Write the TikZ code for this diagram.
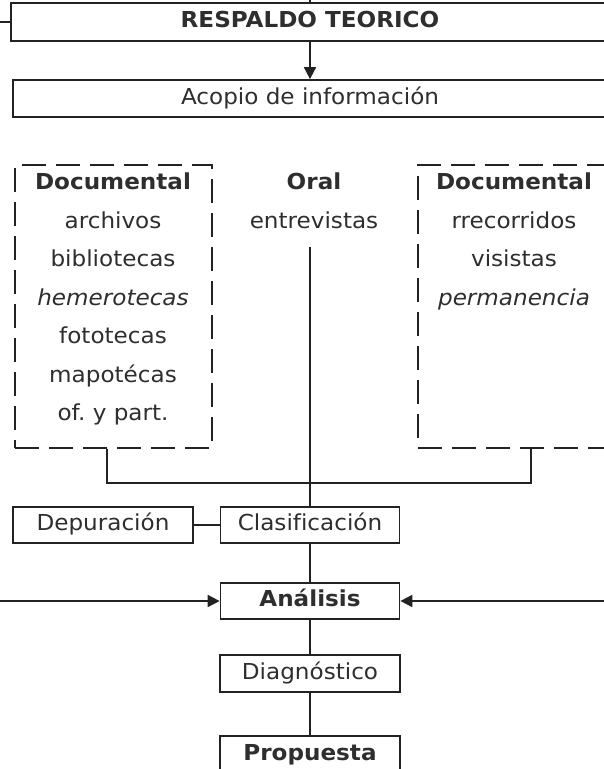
\documentclass[tikz,border=0pt]{standalone}
\usepackage{fontspec}
\setmainfont[FakeStretch=1.05,Ligatures={NoCommon}]{DejaVu Sans}
\usetikzlibrary{arrows.meta}
\definecolor{ink}{HTML}{222222}
\definecolor{txtc}{HTML}{2E2E2E}
\tikzset{
  conn/.style={draw=ink, line width=1.7pt},
  arr/.style={conn, -{Triangle[length=12pt,width=12pt]}},
  box/.style={draw=ink, line width=1.7pt, inner sep=0pt, text=txtc,
    font=\fontsize{22}{26}\selectfont, text height=16pt, text depth=4.5pt},
  dbox/.style={draw=ink, line width=1.7pt, dash pattern=on 24pt off 10pt, inner sep=0pt},
  txt/.style={inner sep=0pt, text=txtc, align=center,
    font=\fontsize{22}{38.5}\selectfont}
}
\frenchspacing
\begin{document}
\begin{tikzpicture}[x=1pt,y=-1pt]
\useasboundingbox (0,0) rectangle (604,769);
\clip (0,0) rectangle (604,769);
% main boxes
\node[box, minimum width=598pt, minimum height=38pt, font=\fontsize{22}{26}\selectfont\bfseries] (resp) at (310,22) {RESPALDO TEORICO};
\node[box, minimum width=594pt, minimum height=37pt] (acopio) at (310,98.5) {Acopio de información};
% dashed groups
\node[dbox, minimum width=197pt, minimum height=283pt] (ldoc) at (113.5,306.5) {};
\node[dbox, minimum width=193pt, minimum height=283pt] (rdoc) at (514.5,306.5) {};
\node[txt, anchor=north] (ltext) at (113,173) {\textbf{Documental}\\archivos\\bibliotecas\\\textit{hemerotecas}\\fototecas\\mapotécas\\of. y part.};
\node[txt, anchor=north] (oral) at (314,173) {\textbf{Oral}\\entrevistas};
\node[txt, anchor=north] (rtext) at (514,173) {\textbf{Documental}\\rrecorridos\\visistas\\\textit{permanencia}};
% lower boxes
\node[box, minimum width=180pt, minimum height=36pt] (dep) at (103,525) {Depuración};
\node[box, minimum width=179pt, minimum height=36pt] (clas) at (310,525) {Clasificación};
\node[box, minimum width=179pt, minimum height=36pt, font=\fontsize{22}{26}\selectfont\bfseries] (anal) at (310,601) {Análisis};
\node[box, minimum width=180pt, minimum height=37pt] (diag) at (310,673.5) {Diagnóstico};
\node[box, minimum width=180pt, minimum height=37pt, font=\fontsize{22}{26}\selectfont\bfseries] (prop) at (310,754.5) {Propuesta};
% coordinates
\coordinate (topin) at (310,0);
\coordinate (leftin) at (0,22);
\coordinate (oraltop) at (310,247);
\coordinate (jl) at (107,483);
\coordinate (jr) at (531,483);
\coordinate (ainl) at (0,601);
\coordinate (ainr) at (604,601);
% connectors
\draw[conn] (topin) -- (resp.north);
\draw[conn] (leftin) -- (resp.west);
\draw[arr] (resp.south) -- (acopio.north);
\draw[conn] (oraltop) -- (clas.north);
\draw[conn] (ldoc.south -| jl) -- (jl) -- (jr) -- (rdoc.south -| jr);
\draw[conn] (dep.east) -- (clas.west);
\draw[conn] (clas.south) -- (anal.north);
\draw[arr] (ainl) -- (anal.west);
\draw[arr] (ainr) -- (anal.east);
\draw[conn] (anal.south) -- (diag.north);
\draw[conn] (diag.south) -- (prop.north);
\end{tikzpicture}
\end{document}
